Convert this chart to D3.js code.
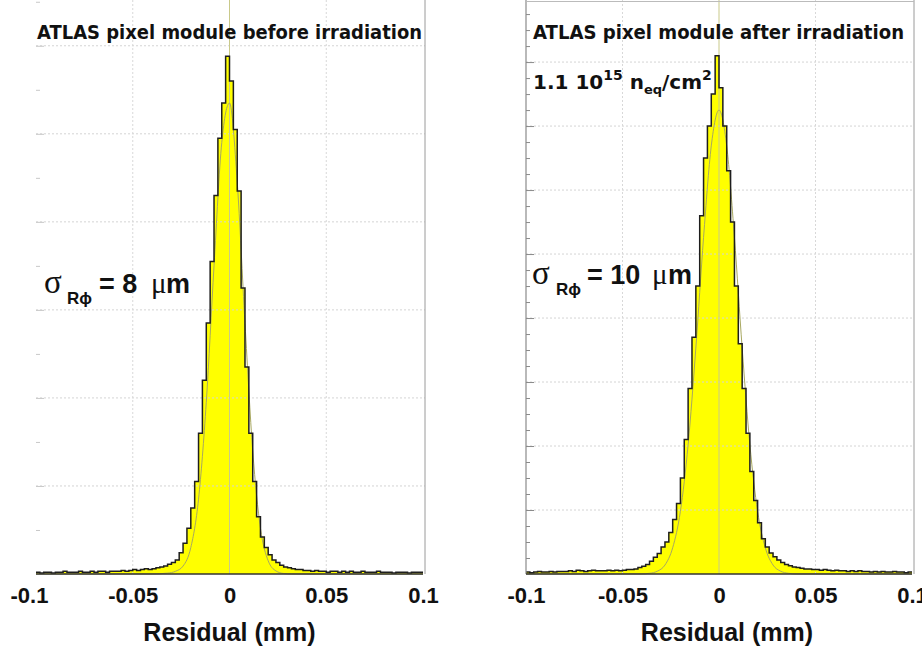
<!DOCTYPE html>
<html><head><meta charset="utf-8">
<script src="https://cdn.jsdelivr.net/npm/d3@7"></script>
<style>body{margin:0;background:#fff;} svg{display:block;}</style>
</head><body><svg id="c" width="922" height="652"></svg>
<script>
// ---- data ----
const binStart = -0.1, binWidth = 0.002;
const leftCounts = [
 0.02,0.01,0.02,0.02,0.01,0.02,0.02,0.03,0.02,0.02,
 0.02,0.03,0.02,0.02,0.03,0.02,0.03,0.03,0.02,0.03,
 0.03,0.03,0.04,0.03,0.04,0.05,0.04,0.05,0.06,0.05,
 0.06,0.07,0.08,0.09,0.11,0.13,0.16,0.24,0.35,0.52,
 0.75,1.05,1.6,2.2,2.85,3.55,4.3,4.95,5.35,5.88,
 5.6,5.05,4.35,3.25,2.35,1.6,1.05,0.65,0.42,0.3,
 0.22,0.16,0.13,0.1,0.08,0.07,0.06,0.05,0.05,0.04,
 0.04,0.03,0.04,0.03,0.03,0.02,0.03,0.03,0.02,0.03,
 0.02,0.03,0.02,0.02,0.03,0.02,0.02,0.02,0.03,0.02,
 0.02,0.02,0.01,0.02,0.02,0.02,0.01,0.02,0.02,0.02];
const rightCounts = [
 0.03,0.02,0.03,0.04,0.03,0.03,0.04,0.03,0.04,0.04,
 0.04,0.05,0.04,0.06,0.05,0.04,0.05,0.06,0.05,0.05,
 0.05,0.06,0.05,0.06,0.05,0.06,0.07,0.07,0.08,0.1,
 0.12,0.15,0.2,0.26,0.32,0.42,0.5,0.65,0.85,1.1,
 1.5,2.1,2.9,3.7,4.5,5.6,6.5,7.0,7.5,8.1,
 7.6,7.0,6.3,5.5,4.5,3.6,2.9,2.2,1.6,1.15,
 0.8,0.55,0.42,0.33,0.27,0.22,0.18,0.15,0.13,0.11,
 0.1,0.09,0.08,0.08,0.07,0.07,0.06,0.07,0.06,0.05,
 0.06,0.05,0.05,0.04,0.05,0.04,0.05,0.04,0.04,0.03,
 0.04,0.03,0.04,0.03,0.03,0.04,0.03,0.03,0.02,0.03];
const leftFitX = [-0.1,-0.04,-0.032,-0.028,-0.024,-0.02,-0.016,-0.012,-0.008,-0.004,0,0.004,0.008,0.012,0.016,0.02,0.024,0.028,0.032,0.04,0.1];
const leftFitY = [0,0.001,0.01,0.03,0.09,0.3,0.85,1.95,3.5,4.9,5.35,4.45,2.85,1.4,0.52,0.15,0.035,0.006,0.001,0,0];
const rightFitX = [-0.1,-0.04,-0.036,-0.032,-0.028,-0.024,-0.02,-0.016,-0.012,-0.008,-0.004,0,0.004,0.008,0.012,0.016,0.02,0.024,0.028,0.032,0.036,0.04,0.1];
const rightFitY = [0,0.002,0.011,0.043,0.14,0.41,0.98,2.02,3.53,5.26,6.69,7.25,6.69,5.26,3.53,2.02,0.98,0.41,0.14,0.043,0.011,0.002,0];
const xTickValues = [-0.1,-0.05,0,0.05,0.1];
const xTickLabels = ["-0.1","-0.05","0","0.05","0.1"];
const xGridValues = [-0.05,0,0.05];
const axisTitle = "Residual (mm)";

// ---- layout ----
const svg = d3.select("#c");
const baseY = 574;
const panels = [
  {counts:leftCounts, fitX:leftFitX, fitY:leftFitY, xr:[36,423], yMax:6.52, rightBorder:425,
   showLeftAxis:false, tickColor:"#c8c8c8", topBorder:false, firstLabelShift:-7},
  {counts:rightCounts, fitX:rightFitX, fitY:rightFitY, xr:[526,912], yMax:8.97, rightBorder:914,
   showLeftAxis:true, tickColor:"#8a8a8a", topBorder:true, firstLabelShift:0}
];

panels.forEach((p,pi) => {
  const x = d3.scaleLinear().domain([-0.1,0.1]).range(p.xr);
  const y = d3.scaleLinear().domain([0,p.yMax]).range([baseY,0]);
  const g = svg.append("g");
  const edges = p.counts.map((c,i)=>binStart+i*binWidth);
  const pts = p.counts.map((c,i)=>[edges[i],c]);
  pts.push([0.1, p.counts[p.counts.length-1]]);

  g.append("path").datum(pts)
    .attr("d", d3.area().curve(d3.curveStepAfter).x(d=>x(d[0])).y0(y(0)).y1(d=>y(d[1])))
    .attr("fill","#ffff00");

  const gridY = d3.range(1, Math.floor(p.yMax)+1);
  g.selectAll(".gy").data(gridY).enter().append("line")
    .attr("x1",p.xr[0]).attr("x2",p.rightBorder).attr("y1",d=>y(d)).attr("y2",d=>y(d))
    .attr("stroke","#d4d4d4").attr("stroke-width",1).attr("stroke-dasharray","2,2");
  g.selectAll(".gx").data(xGridValues).enter().append("line")
    .attr("x1",d=>x(d)).attr("x2",d=>x(d)).attr("y1",0).attr("y2",baseY)
    .attr("stroke", d=> d===0 ? "#c9c98a" : "#d8d8d8").attr("stroke-width",1)
    .attr("stroke-dasharray", d=> d===0 ? null : "2,2");

  const fitPts = p.fitX.map((v,i)=>[v,p.fitY[i]]);
  g.append("path").datum(fitPts)
    .attr("d", d3.line().curve(d3.curveMonotoneX).x(d=>x(d[0])).y(d=>y(d[1])))
    .attr("fill","none").attr("stroke","#a8a860").attr("stroke-width",1);

  g.append("path").datum(pts)
    .attr("d", d3.line().curve(d3.curveStepAfter).x(d=>x(d[0])).y(d=>y(d[1])))
    .attr("fill","none").attr("stroke","#1e1e1e").attr("stroke-width",1.5);

  g.append("line").attr("x1",p.rightBorder).attr("x2",p.rightBorder).attr("y1",0).attr("y2",baseY)
    .attr("stroke","#9a9a9a").attr("stroke-width",1);
  if (p.showLeftAxis) {
    g.append("line").attr("x1",p.xr[0]).attr("x2",p.xr[0]).attr("y1",0).attr("y2",baseY)
      .attr("stroke","#8a8a8a").attr("stroke-width",1.2);
  }
  if (p.topBorder) {
    g.append("line").attr("x1",p.xr[0]).attr("x2",p.rightBorder).attr("y1",1.5).attr("y2",1.5)
      .attr("stroke","#bbbbbb").attr("stroke-width",1);
  }
  g.append("line").attr("x1",p.xr[0]).attr("x2",p.xr[1]).attr("y1",baseY).attr("y2",baseY)
    .attr("stroke","#333").attr("stroke-width",1.6);

  const minorStep = pi===0 ? 0.5 : 0.25;
  const minor = d3.range(minorStep, p.yMax, minorStep).filter(v=>Math.abs(v-Math.round(v))>1e-6);
  const major = d3.range(1, Math.floor(p.yMax)+1);
  const ya = g.append("g").attr("transform",`translate(${p.xr[0]},0)`)
    .call(d3.axisRight(y).tickValues(major).tickSize(8).tickFormat(""));
  const yb = g.append("g").attr("transform",`translate(${p.xr[0]},0)`)
    .call(d3.axisRight(y).tickValues(minor).tickSize(4).tickFormat(""));
  [ya,yb].forEach(a=>{a.select(".domain").remove(); a.selectAll("line").attr("stroke",p.tickColor);});

  const xa = g.append("g").attr("transform",`translate(0,${baseY})`)
    .call(d3.axisBottom(x).tickValues(xTickValues).tickFormat((d,i)=>xTickLabels[i]).tickSize(0).tickPadding(13));
  xa.select(".domain").remove();
  xa.selectAll("text").attr("font-family","'Liberation Sans',Arial,sans-serif")
    .attr("font-weight","bold").attr("font-size",22).attr("fill","#111")
    .attr("dx",(d,i)=> i===0 ? p.firstLabelShift : 0);

  g.append("text").attr("x", (p.xr[0]+p.xr[1])/2 + (pi===0?0:8)).attr("y",641)
    .attr("text-anchor","middle").attr("font-family","'Liberation Sans',Arial,sans-serif")
    .attr("font-weight","bold").attr("font-size",25).attr("fill","#111").text(axisTitle);
});

// ---- annotations ----
const comic = "'Comic Sans MS','DejaVu Sans',sans-serif";
svg.append("text").attr("x",37).attr("y",39).attr("font-family",comic).attr("font-size",20)
  .attr("font-weight","bold")
  .attr("textLength",385).attr("lengthAdjust","spacingAndGlyphs")
  .attr("fill","#111").text("ATLAS pixel module before irradiation");
svg.append("text").attr("x",533).attr("y",39).attr("font-family",comic).attr("font-size",20)
  .attr("font-weight","bold")
  .attr("textLength",371).attr("lengthAdjust","spacingAndGlyphs")
  .attr("fill","#111").text("ATLAS pixel module after irradiation");

const flu = svg.append("text").attr("x",533).attr("y",89).attr("font-family",comic)
  .attr("font-weight","bold").attr("font-size",20).attr("fill","#111");
flu.append("tspan").text("1.1 10");
flu.append("tspan").attr("dy",-9).attr("font-size",14).text("15");
flu.append("tspan").attr("dy",9).text(" n");
flu.append("tspan").attr("dy",5).attr("font-size",13).text("eq");
flu.append("tspan").attr("dy",-5).text("/cm");
flu.append("tspan").attr("dy",-9).attr("font-size",14).text("2");

function sigmaLabel(yb, value, xs) {
  const serif = "'Liberation Serif','Times New Roman',serif";
  const sans = "'Liberation Sans',Arial,sans-serif";
  svg.append("text").attr("x",xs[0]).attr("y",yb).attr("font-family",serif).attr("font-size",33)
    .attr("fill","#111").text("σ");
  svg.append("text").attr("x",xs[1]).attr("y",yb+11).attr("font-family",sans).attr("font-weight","bold")
    .attr("font-size",17).attr("fill","#111").text("Rϕ");
  svg.append("text").attr("x",xs[2]).attr("y",yb).attr("font-family",sans).attr("font-weight","bold")
    .attr("font-size",27).attr("fill","#111").text("= " + value);
  svg.append("text").attr("x",xs[3]).attr("y",yb).attr("font-family",serif)
    .attr("font-size",29).attr("fill","#111").text("μ");
  svg.append("text").attr("x",xs[4]).attr("y",yb).attr("font-family",sans).attr("font-weight","bold")
    .attr("font-size",27).attr("fill","#111").text("m");
}
sigmaLabel(293, "8", [44,67,99,151,166]);
sigmaLabel(284, "10", [532,556,587,652,668]);
</script></body></html>
